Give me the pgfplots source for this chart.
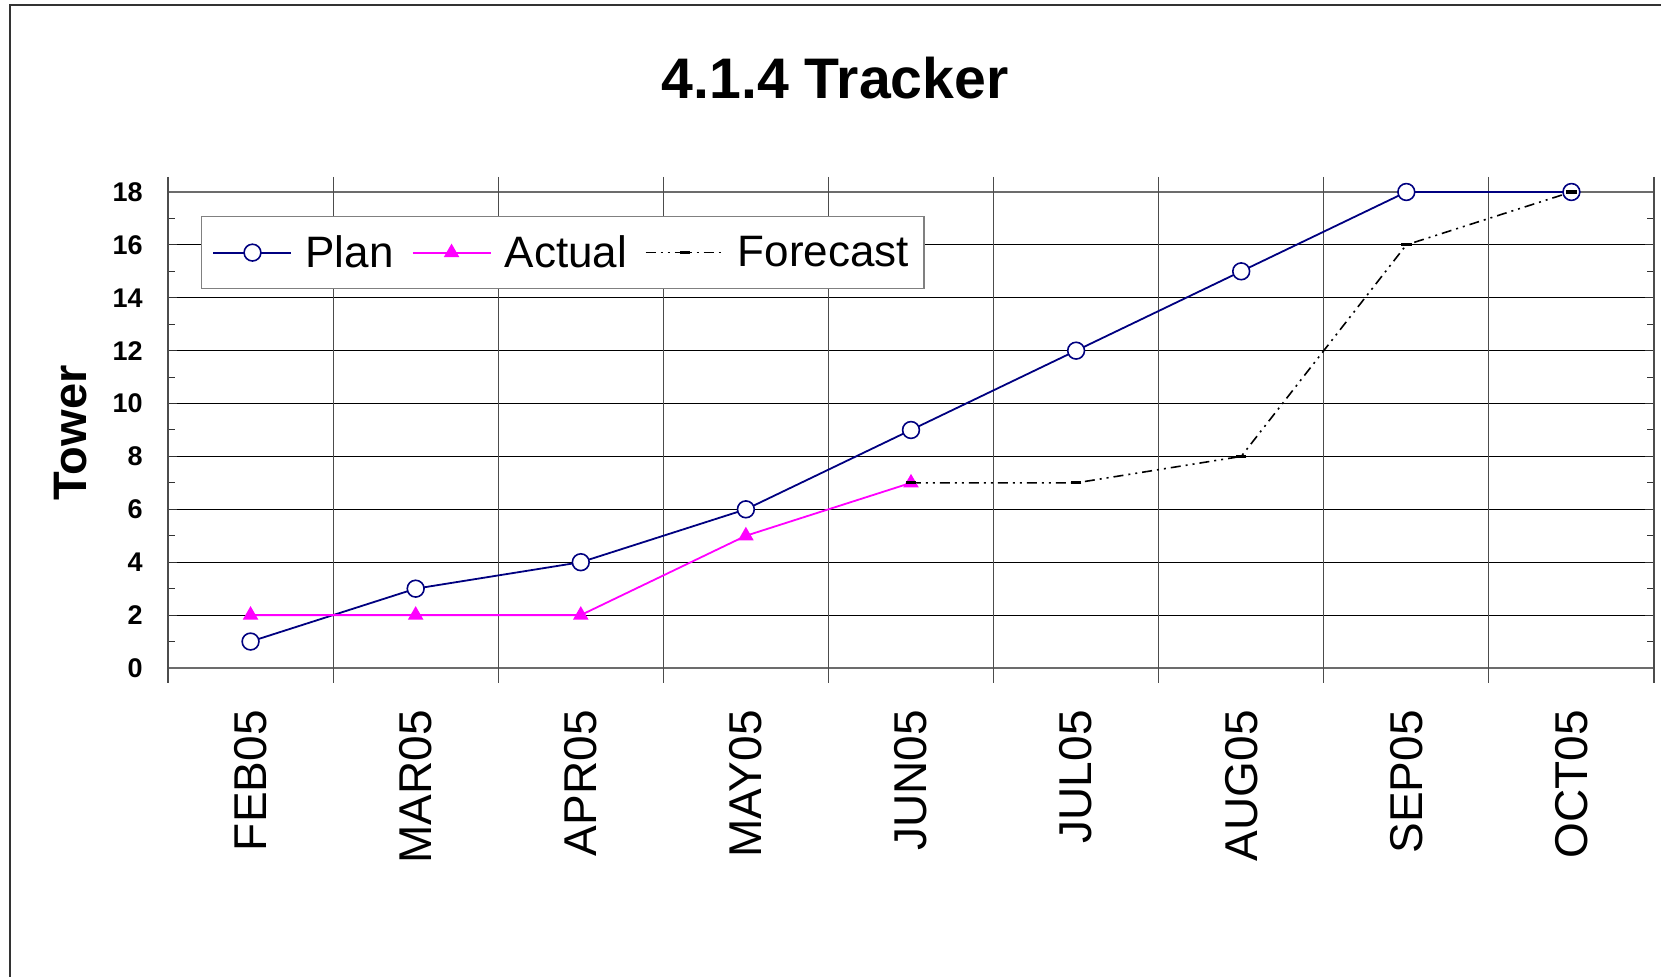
\documentclass[border=0pt]{standalone}
\usepackage{fontspec}
\setmainfont{Liberation Sans}
\usepackage{pgfplots}
\pgfplotsset{compat=1.18}
\definecolor{plannavy}{RGB}{0,0,128}
\definecolor{actmag}{RGB}{255,0,255}
\begin{document}
\begin{tikzpicture}
\begin{axis}[
  scale only axis, width=743pt, height=238pt,
  xmin=-0.5, xmax=8.5, ymin=0, ymax=18,
  axis line style={draw=gray!85!black, line width=0.8pt},
  xtick={0,...,8},
  xticklabels={FEB05,MAR05,APR05,MAY05,JUN05,JUL05,AUG05,SEP05,OCT05},
  xtick style={draw=none},
  xticklabel style={rotate=90, anchor=east, inner sep=0pt, xshift=-21pt, font=\fontsize{23}{23}\selectfont},
  extra x ticks={-0.5,0.5,...,8.5},
  extra x tick labels={},
  extra x tick style={grid=major, tick align=outside, major tick length=7.5pt,
     xtick style={draw=gray!60!black, line width=0.6pt},
     major grid style={draw=gray!60!black, line width=0.6pt}},
  ytick={0,2,...,18},
  minor ytick={1,3,...,17},
  minor tick length=3.5pt,
  ytick style={draw=black!80, line width=0.5pt},
  ymajorgrids, major grid style={black, line width=0.5pt},
  /pgf/number format/assume math mode=true,
  yticklabel style={font=\fontsize{13.5}{13.5}\selectfont\bfseries, inner sep=0pt, anchor=east, xshift=-12.5pt},
  ylabel={Tower},
  ylabel style={at={(axis description cs:-0.0545,0.494)}, anchor=south, inner sep=0pt, font=\fontsize{23.5}{23.5}\selectfont\bfseries},
  title={4.1.4 Tracker},
  title style={at={(axis description cs:0.449,1.1715)}, anchor=base, yshift=0pt, inner sep=0pt, font=\fontsize{28.6}{28.6}\selectfont\bfseries},
  legend style={at={(axis description cs:0.0222,0.9496)}, anchor=north west, draw=gray, line width=0.6pt, fill=white,
    legend columns=3, font=\fontsize{22}{22}\selectfont, inner xsep=5.5pt, inner ysep=7.3pt,
    /tikz/every odd column/.append style={column sep=4.6pt},
    /tikz/every even column/.append style={column sep=7pt}},
  legend image code/.code={\draw[mark repeat=2,mark phase=2,#1] plot coordinates {(0pt,0pt) (19.5pt,0pt) (39pt,0pt)};},
]
\addplot[color=plannavy, line width=0.9pt, mark=*, mark size=4.2pt, mark options={fill=white, draw=plannavy, line width=0.8pt}]
  coordinates {(0,1) (1,3) (2,4) (3,6) (4,9) (5,12) (6,15) (7,18) (8,18)};
\addlegendentry{Plan}
\addplot[color=actmag, line width=0.9pt, mark=triangle*, mark size=3.6pt]
  coordinates {(0,2) (1,2) (2,2) (3,5) (4,7)};
\addlegendentry{Actual}
\addplot[color=black, line width=0.8pt, dash pattern=on 5pt off 2.5pt on 1pt off 2.5pt on 1pt off 2.5pt, mark=-, mark size=2.6pt, mark options={solid, line width=1.6pt}]
  coordinates {(4,7) (5,7) (6,8) (7,16) (8,18)};
\addlegendentry{Forecast}
\end{axis}
\draw[line width=0.6pt, black!80] (-79pt,-300pt) -- (-79pt,331.5pt) -- (900pt,331.5pt);
\pgfresetboundingbox
\useasboundingbox (-84pt,-154.5pt) rectangle (746.5pt,334pt);
\end{tikzpicture}
\end{document}
